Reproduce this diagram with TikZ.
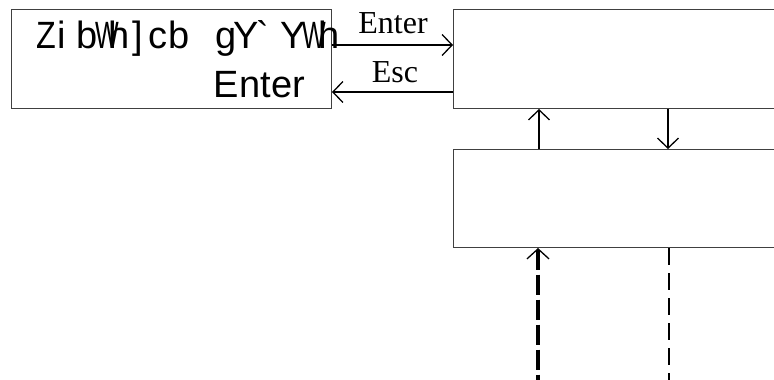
\documentclass[tikz,border=0pt]{standalone}
\usepackage{fontspec}
\usepackage{graphicx}
\newfontfamily\sansf[Ligatures=TeXOff]{Liberation Sans}
\newfontfamily\serf{Liberation Serif}
\usetikzlibrary{arrows.meta,calc}
\newcommand\glyphat[2]{\rlap{\hspace*{#1pt}#2}}
\begin{document}
\begin{tikzpicture}[x=1pt,y=-1pt,
  box/.style={draw=black!75,line width=1pt,rectangle,inner sep=0pt,anchor=north west},
  tipA/.style={-{Straight Barb[length=10pt,width=21pt,line width=1.3pt]}},
  conn/.style={line width=1.3pt,tipA},
  lbl/.style={font=\serf\fontsize{32}{32}\selectfont,inner sep=0pt,anchor=base},
  big/.style={font=\sansf\fontsize{38}{38}\selectfont,inner sep=0pt}]
\useasboundingbox (0,0) rectangle (774,380);
\begin{scope}
\clip (0,0) rectangle (774,380);
\node[box,minimum width=320pt,minimum height=99pt] (cmd) at (11,9) {};
\node[box,minimum width=330pt,minimum height=99pt] (disp) at (453,9) {};
\node[box,minimum width=330pt,minimum height=98pt] (ctrl) at (453,149) {};
\node[big,anchor=base west] (t1) at (36,48) {\glyphat{0}{\scalebox{0.85}[1]{Z}}\glyphat{21}{i}\glyphat{40}{b}\glyphat{59}{\scalebox{0.66}[1]{W}}\glyphat{72}{h}\glyphat{96}{]}\glyphat{112}{c}\glyphat{132}{b}\glyphat{179}{g}\glyphat{197}{Y}\glyphat{220}{\symbol{96}}\glyphat{244}{Y}\glyphat{266}{\scalebox{0.66}[1]{W}}\glyphat{282}{h}};
\node[big,anchor=base east] (t2) at (305,97) {Enter};
\coordinate (yE) at (0,45);
\coordinate (yS) at (0,92);
\draw[conn] (cmd.east |- yE) -- (disp.west |- yE);
\draw[conn] (disp.west |- yS) -- (cmd.east |- yS);
\node[lbl] (lE) at (393,34) {Enter};
\node[lbl] (lS) at (395,82) {Esc};
\coordinate (xU) at (539,0);
\coordinate (xD) at (668,0);
\draw[conn] (ctrl.north -| xU) -- (disp.south -| xU);
\draw[conn] (disp.south -| xD) -- (ctrl.north -| xD);
\coordinate (bU) at (538,386);
\coordinate (bD) at (669,386);
\draw[line width=3.5pt,dash pattern=on 20pt off 5pt,{Straight Barb[length=10pt,width=22pt,line width=1.3pt]}-] (ctrl.south -| bU) -- (bU);
\draw[line width=1.5pt,dash pattern=on 17pt off 8pt] (ctrl.south -| bD) -- (bD);
\end{scope}
\end{tikzpicture}
\end{document}
